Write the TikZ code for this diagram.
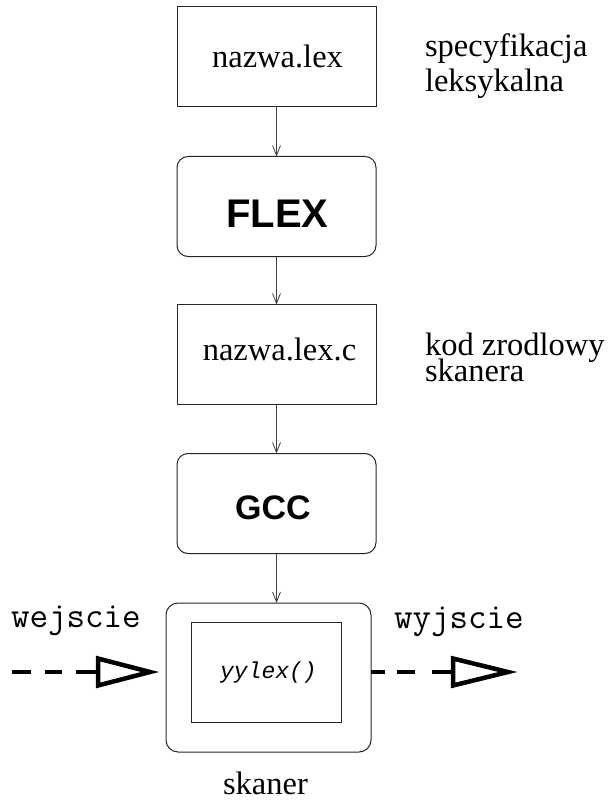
\documentclass[tikz,border=0pt]{standalone}
\usepackage{fontspec}
\setmainfont{Liberation Serif}
\newfontfamily\hvfont{Liberation Sans}
\newfontfamily\crfont{Liberation Mono}
\usetikzlibrary{arrows.meta}
\tikzset{
  plainbox/.style={draw=black!85, line width=1pt, minimum width=199pt, minimum height=100pt, inner sep=0pt, outer sep=0pt},
  roundbox/.style={plainbox, rounded corners=11pt},
  flow/.style={draw=black!75, line width=0.8pt, -{Straight Barb[length=10pt,width=8pt]}},
  bigdash/.style={line width=4.5pt},
  bighead/.style={line width=4.5pt, line join=miter, miter limit=20},
  txt/.style={anchor=base, inner sep=0pt, outer sep=0pt},
  ltxt/.style={anchor=base west, inner sep=0pt, outer sep=0pt},
  serif/.style={font=\fontsize{32.5}{36}\selectfont},
  mono/.style={font=\ttfamily\fontsize{36}{40}\selectfont},
}
\begin{document}
\begin{tikzpicture}[x=1pt,y=-1pt]
\useasboundingbox (0,0) rectangle (608,802);

% boxes
\node[plainbox] (lex) at (276.5,57) {};
\node[roundbox] (flex) at (276.5,206.5) {};
\node[plainbox] (lexc) at (276.5,354.5) {};
\node[roundbox] (gcc) at (276.5,503.5) {};
\node[roundbox, minimum width=205pt, minimum height=149pt, rounded corners=12pt] (outer) at (268.5,677.5) {};
\node[plainbox, minimum width=150pt, minimum height=100pt] (inner) at (266,672) {};

% texts in boxes
\node[txt, serif] (tlex) at (277.5,68) {nazwa.lex};
\node[txt, font=\hvfont\bfseries\fontsize{40}{44}\selectfont] (tflex) at (277.5,227) {FLEX};
\node[txt, serif] (tlexc) at (279.5,360) {nazwa.lex.c};
\node[txt, font=\hvfont\bfseries\fontsize{34}{38}\selectfont] (tgcc) at (273,519) {GCC};
\node[txt, font=\crfont\itshape\fontsize{23}{26}\selectfont] (tyy) at (268.5,678) {yylex()};

% side labels
\node[ltxt, serif] (s1) at (425,57) {specyfikacja};
\node[ltxt, serif] (s2) at (425,92) {leksykalna};
\node[ltxt, serif] (k1) at (425,355) {kod zrodlowy};
\node[ltxt, serif] (k2) at (425,381) {skanera};
\node[txt, serif] (sk) at (265.5,794) {skaner};
\node[ltxt, mono] (we) at (11,627) {wejscie};
\node[ltxt, mono] (wy) at (394,628) {wyjscie};

% flow connectors
\draw[flow] (lex.south) -- (flex.north);
\draw[flow] (flex.south) -- (lexc.north);
\draw[flow] (lexc.south) -- (gcc.north);
\draw[flow] (gcc.south) -- (gcc.south |- outer.north);

% input / output arrows
\coordinate (inS) at (12,672);
\coordinate (inB) at (98,672);
\coordinate (outB) at (453,672);
\coordinate (outE) at (517,672);
\draw[bigdash, dash pattern=on 22pt off 14pt on 17pt off 14pt on 19pt off 10pt] (inB) -- (inS);
\draw[bighead] ([yshift=-13.5pt]inB) -- ([xshift=52pt]inB) -- ([yshift=13.5pt]inB) -- cycle;
\draw[bigdash, dash pattern=on 21pt off 17pt on 18pt off 12pt on 16pt off 10pt] (outB) -- (outer.east |- outB);
\draw[bighead] ([yshift=-13.5pt]outB) -- ([xshift=-9pt]outE) -- ([yshift=13.5pt]outB) -- cycle;
\end{tikzpicture}
\end{document}
